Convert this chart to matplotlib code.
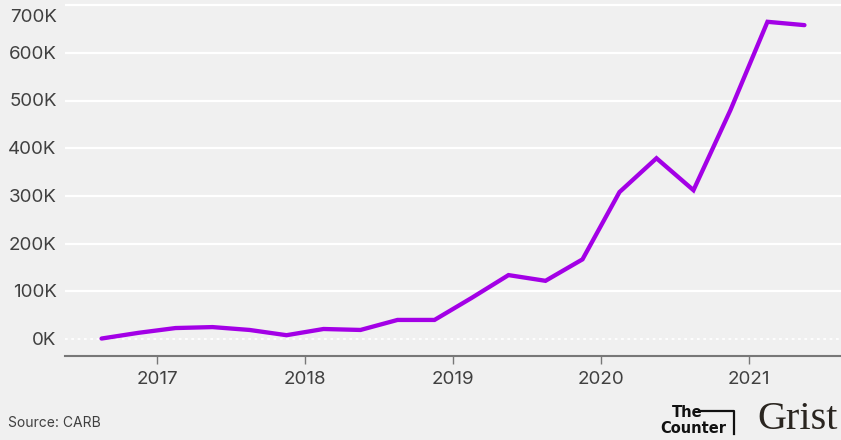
import matplotlib
matplotlib.use("Agg")
import matplotlib.pyplot as plt
from matplotlib.lines import Line2D

quarters = ["2016-Q3", "2016-Q4", "2017-Q1", "2017-Q2", "2017-Q3", "2017-Q4",
            "2018-Q1", "2018-Q2", "2018-Q3", "2018-Q4", "2019-Q1", "2019-Q2",
            "2019-Q3", "2019-Q4", "2020-Q1", "2020-Q2", "2020-Q3", "2020-Q4",
            "2021-Q1", "2021-Q2"]
values = [1, 13, 23, 25, 19, 8, 21, 19, 40, 40, 86, 134, 122, 167, 308, 379,
          312, 480, 665, 658]  # thousands
year_ticks = [2017, 2018, 2019, 2020, 2021]
y_ticks = [0, 100, 200, 300, 400, 500, 600, 700]
y_labels = ["0K", "100K", "200K", "300K", "400K", "500K", "600K", "700K"]

x = [int(q[:4]) + (int(q[-1]) - 1) / 4 + 0.125 for q in quarters]

BG = "#f0f0f0"
TXT = "#404040"
plt.rcParams["font.family"] = ["Inter", "DejaVu Sans"]

fig = plt.figure(figsize=(8.41, 4.40), dpi=100, facecolor=BG)
ax = fig.add_axes([65 / 841, (440 - 356) / 440, (841 - 65) / 841, 356 / 440])
ax.set_facecolor(BG)

ax.set_xlim(2016.378, 2021.622)
ax.set_ylim(-35.6, 710.7)

for v in y_ticks[1:]:
    ax.axhline(v, color="white", lw=1.6, zorder=1)
ax.axhline(0, color="white", lw=1.3, ls=(0, (1.5, 2)), zorder=1)

ax.plot(x, values, color="#a300e6", lw=3.1, solid_joinstyle="miter",
        solid_capstyle="round", zorder=3)

for s in ["top", "right", "left"]:
    ax.spines[s].set_visible(False)
ax.spines["bottom"].set_color("#777777")
ax.spines["bottom"].set_linewidth(1.5)

ax.set_xticks(year_ticks)
ax.set_xticklabels([str(y) for y in year_ticks])
ax.tick_params(axis="x", length=6, width=1, color="#777777", pad=5,
               labelsize=13.5, labelcolor=TXT)

ax.set_yticks([])
for v, lab in zip(y_ticks, y_labels):
    off = -8 if v == 700 else 0
    ax.annotate(lab, xy=(0, v), xycoords=("axes fraction", "data"),
                xytext=(-6, off - 1), textcoords="offset points",
                ha="right", va="center", fontsize=13.5, color=TXT)

fig.text(8 / 841, 1 - 423 / 440, "Source: CARB", fontsize=10, color=TXT,
         ha="left", va="center")

# logos as text
fig.text(672 / 841, 1 - 412 / 440, "The", fontsize=10.5, fontweight="bold",
         color="#111111", ha="left", va="center",
         family=["Liberation Sans Narrow", "DejaVu Sans"])
fig.text(660 / 841, 1 - 428 / 440, "Counter", fontsize=10.5, fontweight="bold",
         color="#111111", ha="left", va="center",
         family=["Liberation Sans Narrow", "DejaVu Sans"])
fig.add_artist(Line2D([699 / 841, 734 / 841, 734 / 841],
                      [1 - 411 / 440, 1 - 411 / 440, 1 - 434 / 440],
                      transform=fig.transFigure, color="#111111", lw=1.6))
fig.text(757 / 841, 1 - 419 / 440, "Grist", fontsize=29, color="#2a2520",
         ha="left", va="center", family=["Liberation Serif", "DejaVu Serif"])

fig.savefig("out.png", dpi=100, facecolor=BG)
